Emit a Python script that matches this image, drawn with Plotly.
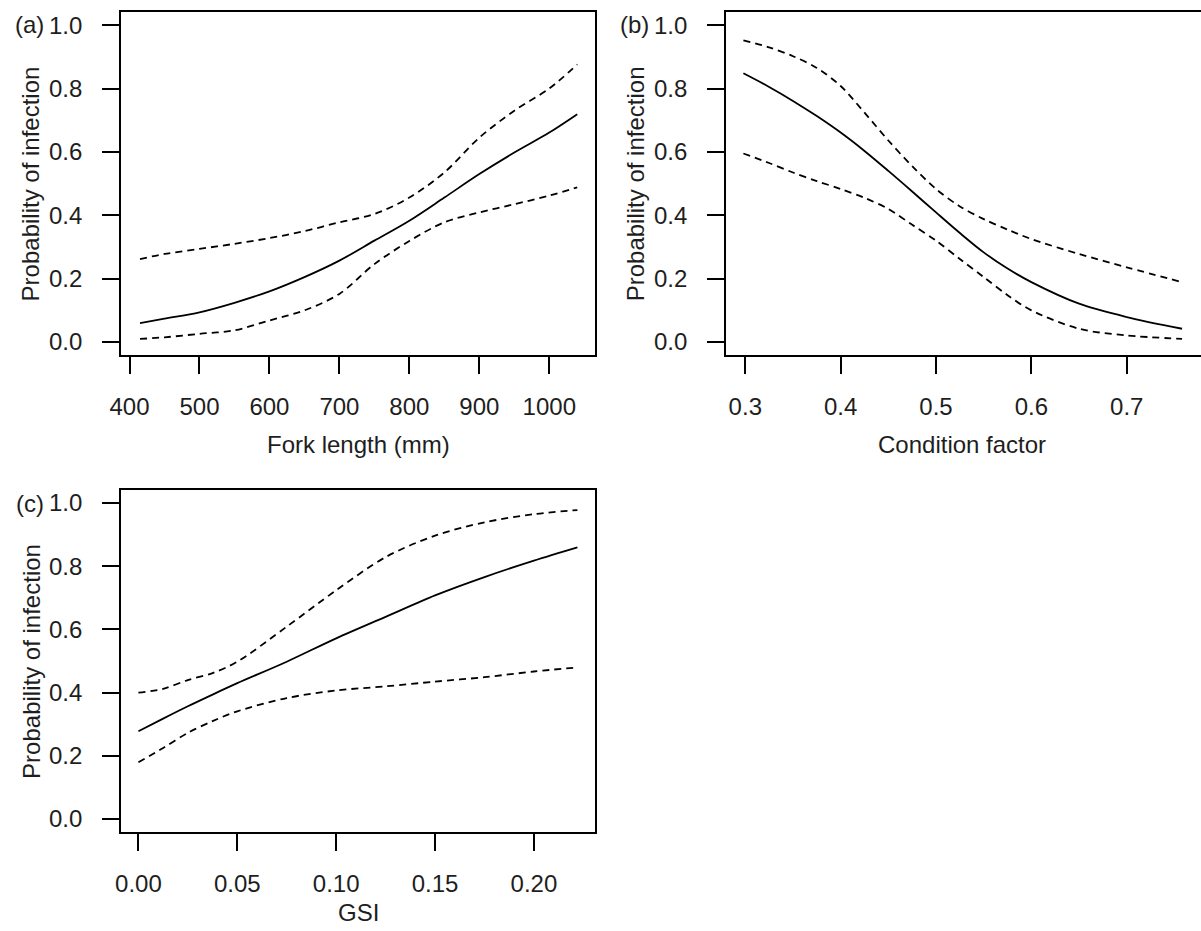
import plotly.graph_objects as go

# ---------------- data ----------------
# (a) Fork length
fl_x = [415, 450, 500, 550, 600, 650, 700, 750, 800, 850, 900, 950, 1000, 1040]
fl_fit = [0.060, 0.074, 0.094, 0.124, 0.160, 0.205, 0.257, 0.320, 0.383, 0.456, 0.530, 0.598, 0.661, 0.719]
fl_upper = [0.262, 0.278, 0.294, 0.310, 0.328, 0.350, 0.378, 0.404, 0.456, 0.535, 0.645, 0.730, 0.800, 0.876]
fl_lower = [0.010, 0.015, 0.026, 0.037, 0.068, 0.100, 0.152, 0.246, 0.319, 0.378, 0.409, 0.435, 0.462, 0.488]

# (b) Condition factor
cf_x = [0.298, 0.325, 0.35, 0.375, 0.40, 0.425, 0.45, 0.475, 0.50, 0.525, 0.55, 0.575, 0.60, 0.65, 0.70, 0.758]
cf_fit = [0.848, 0.805, 0.761, 0.713, 0.661, 0.603, 0.540, 0.475, 0.409, 0.344, 0.283, 0.232, 0.189, 0.121, 0.079, 0.042]
cf_upper = [0.952, 0.930, 0.902, 0.865, 0.808, 0.724, 0.636, 0.555, 0.483, 0.428, 0.388, 0.355, 0.325, 0.278, 0.236, 0.189]
cf_lower = [0.595, 0.565, 0.535, 0.508, 0.483, 0.455, 0.420, 0.370, 0.320, 0.262, 0.205, 0.148, 0.100, 0.042, 0.021, 0.010]

# (c) GSI
gsi_x = [0.0, 0.0125, 0.025, 0.0375, 0.05, 0.075, 0.10, 0.125, 0.15, 0.175, 0.20, 0.222]
gsi_fit = [0.278, 0.318, 0.357, 0.394, 0.430, 0.498, 0.572, 0.640, 0.708, 0.766, 0.818, 0.860]
gsi_upper = [0.400, 0.412, 0.440, 0.462, 0.498, 0.609, 0.724, 0.829, 0.897, 0.939, 0.965, 0.978]
gsi_lower = [0.180, 0.225, 0.273, 0.310, 0.341, 0.383, 0.407, 0.420, 0.435, 0.449, 0.467, 0.480]

y_ticks = [0.0, 0.2, 0.4, 0.6, 0.8, 1.0]
fl_ticks = [400, 500, 600, 700, 800, 900, 1000]
cf_ticks = [0.3, 0.4, 0.5, 0.6, 0.7]
gsi_ticks = [0.00, 0.05, 0.10, 0.15, 0.20]

panel_labels = ["(a)", "(b)", "(c)"]
x_titles = ["Fork length (mm)", "Condition factor", "GSI"]
y_title = "Probability of infection"

# ---------------- figure ----------------
W, H = 1201, 931
OFFX = 8  # page offset observed in the rendered screenshot
FONT = "Liberation Sans, Arial, sans-serif"
TXT = "#1e1e1e"
FS = 24

def px(v):
    return (v - OFFX) / W

def py(v):
    return 1 - v / H

fig = go.Figure()

def add_panel(idx, x, fit, up, lo):
    xa = "x" if idx == 1 else f"x{idx}"
    ya = "y" if idx == 1 else f"y{idx}"
    for yy, dash in ((up, "7px,5px"), (fit, "solid"), (lo, "7px,5px")):
        fig.add_trace(go.Scatter(
            x=x, y=yy, xaxis=xa, yaxis=ya, mode="lines",
            line=dict(color="black", width=1.8, dash=dash, shape="spline", smoothing=0.9),
            showlegend=False, hoverinfo="skip"))

add_panel(1, fl_x, fl_fit, fl_upper, fl_lower)
add_panel(2, cf_x, cf_fit, cf_upper, cf_lower)
add_panel(3, gsi_x, gsi_fit, gsi_upper, gsi_lower)

common_x = dict(showgrid=False, zeroline=False, showline=True, linecolor="black", linewidth=2,
                ticks="outside", ticklen=17, tickwidth=2, tickcolor="black",
                tickfont=dict(family=FONT, size=FS, color=TXT), ticklabelstandoff=12)
common_y = dict(showgrid=False, zeroline=False, showline=True, linecolor="black", linewidth=2,
                ticks="outside", ticklen=17, tickwidth=2, tickcolor="black",
                tickfont=dict(family=FONT, size=FS, color=TXT),
                range=[-0.04, 1.04], tickvals=y_ticks, ticktext=[f"{v:.1f}" for v in y_ticks],
                ticklabelstandoff=15)

# panel boxes (pixel positions in the reference picture)
A_X = (118.3, 596.7); A_Y = (11.5, 354.5)
B_X = (729.3, 1209.0); B_Y = (11.5, 354.5)
C_X = (118.3, 597.3); C_Y = (490.5, 832.5)

# panel (b) axis is cut by the right edge of the picture
b_left = 0.3 - (748.7 - B_X[0]) / 963.25
b_right = 0.3 + (B_X[1] - 748.7) / 963.25

fig.update_layout(
    width=W, height=H, margin=dict(l=0, r=0, t=0, b=0),
    paper_bgcolor="white", plot_bgcolor="white",
    xaxis=dict(common_x, domain=[px(A_X[0]), px(A_X[1])], range=[388.1, 1065.1],
               tickvals=fl_ticks, ticktext=[str(v) for v in fl_ticks], mirror=True, anchor="y"),
    yaxis=dict(common_y, domain=[py(A_Y[1]), py(A_Y[0])], mirror=True, anchor="x"),
    xaxis2=dict(common_x, domain=[px(B_X[0]), 1.0], range=[b_left, b_right],
                tickvals=cf_ticks, ticktext=[f"{v:.1f}" for v in cf_ticks], mirror=True, anchor="y2"),
    yaxis2=dict(common_y, domain=[py(B_Y[1]), py(B_Y[0])], mirror=False, anchor="x2"),
    xaxis3=dict(common_x, domain=[px(C_X[0]), px(C_X[1])], range=[-0.00871, 0.2311],
                tickvals=gsi_ticks, ticktext=[f"{v:.2f}" for v in gsi_ticks], mirror=True, anchor="y3"),
    yaxis3=dict(common_y, domain=[py(C_Y[1]), py(C_Y[0])], mirror=True, anchor="x3"),
)

ann = []
# panel letters
for lab, xr, yc in ((panel_labels[0], 42, 24), (panel_labels[1], 653, 24), (panel_labels[2], 42, 504)):
    ann.append(dict(text=lab, x=px(xr), y=py(yc), xref="paper", yref="paper",
                    xanchor="right", yanchor="middle", showarrow=False,
                    font=dict(family=FONT, size=FS, color=TXT)))
# y titles
for xc, yc in ((27, (A_Y[0] + A_Y[1]) / 2), (638, (B_Y[0] + B_Y[1]) / 2), (27, (C_Y[0] + C_Y[1]) / 2)):
    ann.append(dict(text=y_title, x=px(xc), y=py(yc), xref="paper", yref="paper",
                    xanchor="center", yanchor="middle", textangle=-90, showarrow=False,
                    font=dict(family=FONT, size=FS, color=TXT)))
# x titles
for t, xc, yc in ((x_titles[0], 357.5, 444), (x_titles[1], 968, 444), (x_titles[2], 357.8, 913)):
    ann.append(dict(text=t, x=px(xc), y=py(yc), xref="paper", yref="paper",
                    xanchor="center", yanchor="middle", showarrow=False,
                    font=dict(family=FONT, size=FS, color=TXT)))
fig.update_layout(annotations=ann)

fig.write_html("out.html")
